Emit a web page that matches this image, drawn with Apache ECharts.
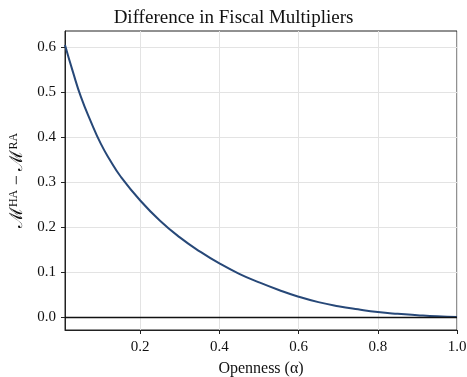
<!DOCTYPE html>
<html>
<head>
<meta charset="utf-8">
<script src="https://cdn.jsdelivr.net/npm/echarts@6/dist/echarts.min.js"></script>
<style>
  html, body { margin: 0; padding: 0; background: #fff; }
  #chart { width: 467px; height: 377px; }
</style>
</head>
<body>
<div id="chart"></div>
<script>
// openness (alpha) and difference in multipliers
var openness = [0.01, 0.03, 0.05, 0.075, 0.1, 0.125, 0.15, 0.2, 0.25, 0.3, 0.35, 0.4, 0.45, 0.5,
  0.55, 0.6, 0.65, 0.7, 0.75, 0.8, 0.85, 0.9, 0.95, 1.0];
var multDiff = [0.605, 0.545, 0.49, 0.435, 0.386, 0.347, 0.313, 0.259, 0.214, 0.177, 0.146, 0.119, 0.096, 0.077,
  0.06, 0.045, 0.033, 0.024, 0.017, 0.011, 0.007, 0.004, 0.0015, 0.0];
var xTicks = [0.2, 0.4, 0.6, 0.8, 1.0];
var yTicks = [0.0, 0.1, 0.2, 0.3, 0.4, 0.5, 0.6];

var serif = 'Liberation Serif';
var pts = openness.map(function (x, i) { return [x, multDiff[i]]; });

var chart = echarts.init(document.getElementById('chart'));
chart.setOption({
  animation: false,
  title: {
    text: 'Difference in Fiscal Multipliers',
    left: 'center',
    top: 4,
    textStyle: { fontFamily: serif, fontSize: 19, fontWeight: 'normal', color: '#111' }
  },
  grid: {
    left: 65, right: 10, top: 31, bottom: 47,
    outerBoundsMode: 'none',
    containLabel: false,
    show: true, borderColor: '#222', borderWidth: 1, backgroundColor: '#fff'
  },
  xAxis: {
    type: 'value',
    min: 0.01, max: 1.0,
    name: 'Openness (α)',
    nameLocation: 'middle',
    nameGap: 31,
    nameTextStyle: { fontFamily: serif, fontSize: 16, color: '#111' },
    axisLine: { show: true, onZero: false, lineStyle: { color: '#222', width: 1 } },
    axisTick: { show: true, length: 4, lineStyle: { color: '#222' }, customValues: xTicks },
    axisLabel: {
      fontFamily: serif, fontSize: 15, color: '#111', margin: 10,
      customValues: xTicks,
      formatter: function (v) { return v.toFixed(1); }
    },
    splitLine: { show: true, lineStyle: { color: '#e3e3e3', width: 1 } }
  },
  yAxis: {
    type: 'value',
    min: -0.029, max: 0.636,
    name: 'ℳ{sup|HA} − ℳ{sup|RA}',
    nameLocation: 'middle',
    nameGap: 37,
    nameRotate: 90,
    nameTextStyle: {
      fontFamily: serif, fontSize: 18, color: '#111',
      rich: { sup: { fontFamily: serif, fontSize: 12, verticalAlign: 'top', padding: [0, 0, 8, 0] } }
    },
    axisLine: { show: true, lineStyle: { color: '#222', width: 1 } },
    axisTick: { show: true, length: 4, lineStyle: { color: '#222' }, customValues: yTicks },
    axisLabel: {
      fontFamily: serif, fontSize: 15, color: '#111', margin: 9,
      customValues: yTicks,
      formatter: function (v) { return v.toFixed(1); }
    },
    splitLine: { show: true, lineStyle: { color: '#e3e3e3', width: 1 } }
  },
  series: [{
    type: 'line',
    data: pts,
    smooth: 0.5,
    showSymbol: false,
    lineStyle: { color: '#274878', width: 2 },
    markLine: {
      silent: true,
      symbol: 'none',
      label: { show: false },
      lineStyle: { color: '#111', width: 1.3, type: 'solid' },
      data: [{ yAxis: 0 }]
    },
    z: 3
  }]
});
</script>
</body>
</html>
